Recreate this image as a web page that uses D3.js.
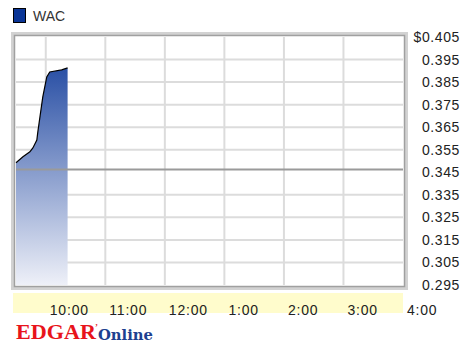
<!DOCTYPE html>
<html>
<head>
<meta charset="utf-8">
<script src="https://cdn.jsdelivr.net/npm/d3@7"></script>
<style>
  body { margin: 0; background: #fff; }
  svg { display: block; font-family: "Liberation Sans", Arial, sans-serif; }
</style>
</head>
<body>
<svg id="chart"></svg>
<script>
// intraday price, WAC
const times = ['9:30', '9:37', '9:44', '9:47', '9:51', '9:52', '9:54', '9:57', '10:01', '10:04', '10:16', '10:22'];
const prices = [0.3492, 0.3519, 0.3541, 0.3558, 0.3593, 0.3629, 0.3691, 0.3784, 0.3873, 0.3895, 0.3904, 0.3913];
const prevClose = 0.3462;
const yTicks = [0.405, 0.395, 0.385, 0.375, 0.365, 0.355, 0.345, 0.335, 0.325, 0.315, 0.305, 0.295];
const xTicks = ['10:00', '11:00', '12:00', '1:00', '2:00', '3:00', '4:00'];
const seriesName = 'WAC';

const width = 464, height = 345;
const plot = {left: 16, top: 37, right: 403, bottom: 285};

// hours since midnight, afternoon labels are 12h style
const toHours = (s) => {
  let [h, m] = s.split(':').map(Number);
  if (h < 9) h += 12;
  return h + m / 60;
};

const svg = d3.select('#chart')
  .attr('width', width)
  .attr('height', height);

const x = d3.scaleLinear()
  .domain([9.5, 16])
  .range([plot.left, plot.right]);

const y = d3.scaleLinear()
  .domain([0.295, 0.405])
  .range([plot.bottom, plot.top]);

const data = times.map((t, i) => ({t: toHours(t), v: prices[i]}));

// legend
svg.append('rect')
  .attr('x', 13.5).attr('y', 8.5)
  .attr('width', 12).attr('height', 14)
  .attr('fill', '#0a3596')
  .attr('stroke', '#000');
svg.append('text')
  .attr('x', 33).attr('y', 21)
  .attr('font-size', 14)
  .attr('fill', '#333')
  .text(seriesName);

// yellow time band
svg.append('rect')
  .attr('x', 13).attr('y', 293)
  .attr('width', 390).attr('height', 20)
  .attr('fill', '#fffccc');

// grid
const grid = svg.append('g');
grid.selectAll('.vgrid')
  .data(xTicks.slice(0, -1))
  .enter().append('line')
  .attr('x1', (d) => x(toHours(d))).attr('x2', (d) => x(toHours(d)))
  .attr('y1', plot.top).attr('y2', plot.bottom)
  .attr('stroke', '#dcdcdc').attr('stroke-width', 2);
grid.selectAll('.hgrid')
  .data(yTicks.slice(1, -1).filter((d) => d !== 0.345))
  .enter().append('line')
  .attr('x1', plot.left).attr('x2', plot.right)
  .attr('y1', (d) => y(d)).attr('y2', (d) => y(d))
  .attr('stroke', '#dcdcdc').attr('stroke-width', 2);

// gradient area
const grad = svg.append('defs').append('linearGradient')
  .attr('id', 'fillGrad')
  .attr('gradientUnits', 'userSpaceOnUse')
  .attr('x1', 0).attr('x2', 0)
  .attr('y1', y(d3.max(prices))).attr('y2', plot.bottom);
grad.append('stop').attr('offset', 0).attr('stop-color', '#2a50a5');
grad.append('stop').attr('offset', 1).attr('stop-color', '#eef0f8');

svg.append('path')
  .datum(data)
  .attr('fill', 'url(#fillGrad)')
  .attr('d', d3.area().x((d) => x(d.t)).y0(plot.bottom).y1((d) => y(d.v)));

// previous close
svg.append('line')
  .attr('x1', plot.left).attr('x2', plot.right)
  .attr('y1', y(prevClose)).attr('y2', y(prevClose))
  .attr('stroke', '#9a9a9a').attr('stroke-width', 2);

svg.append('path')
  .datum(data)
  .attr('fill', 'none')
  .attr('stroke', '#000')
  .attr('stroke-width', 1.2)
  .attr('d', d3.line().x((d) => x(d.t)).y((d) => y(d.v)));

// frame
svg.append('rect')
  .attr('x', 12.5).attr('y', 33.5)
  .attr('width', 394).attr('height', 255)
  .attr('fill', 'none').attr('stroke', '#d2d2d2').attr('stroke-width', 3);
svg.append('rect')
  .attr('x', 14.5).attr('y', 35.5)
  .attr('width', 390).attr('height', 251)
  .attr('fill', 'none').attr('stroke', '#a0a0a0').attr('stroke-width', 1.5);

// y labels
svg.append('g')
  .selectAll('text')
  .data(yTicks)
  .enter().append('text')
  .attr('x', 460)
  .attr('y', (d) => y(d) + 5)
  .attr('text-anchor', 'end')
  .attr('font-size', 14)
  .attr('letter-spacing', 0.6)
  .attr('fill', '#222')
  .text((d, i) => (i === 0 ? '$' : '') + d.toFixed(3));

// x labels
svg.append('g')
  .selectAll('text')
  .data(xTicks)
  .enter().append('text')
  .attr('x', (d) => x(toHours(d)) + 4)
  .attr('y', 315)
  .attr('font-size', 14)
  .attr('letter-spacing', 0.8)
  .attr('fill', '#222')
  .text((d) => d);

// logo
svg.append('text')
  .attr('x', 16).attr('y', 339)
  .attr('font-family', '"Liberation Serif", "DejaVu Serif", serif')
  .attr('font-weight', 'bold')
  .attr('font-size', 20)
  .attr('textLength', 80)
  .attr('lengthAdjust', 'spacingAndGlyphs')
  .attr('fill', '#e8141b')
  .text('EDGAR');
svg.append('text')
  .attr('x', 95).attr('y', 330)
  .attr('font-family', '"Liberation Serif", serif')
  .attr('font-weight', 'bold')
  .attr('font-size', 9)
  .attr('fill', '#e8141b')
  .text('\u2019');
svg.append('text')
  .attr('x', 98).attr('y', 340)
  .attr('font-family', '"DejaVu Serif", "Liberation Serif", serif')
  .attr('font-weight', 'bold')
  .attr('font-size', 15)
  .attr('textLength', 55)
  .attr('lengthAdjust', 'spacingAndGlyphs')
  .attr('fill', '#1d3f8f')
  .text('Online');
</script>
</body>
</html>
